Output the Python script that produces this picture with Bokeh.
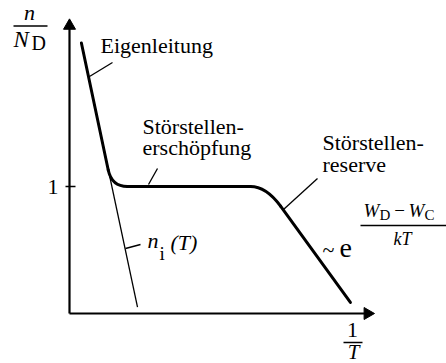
import math
from bokeh.plotting import figure
from bokeh.models import Range1d
from bokeh.core.properties import value
from bokeh.embed import file_html
from bokeh.resources import INLINE

# Carrier density n/N_D versus 1/T (schematic units)
eigen_x = [0.39, 1.27]        # intrinsic branch (thick part)
eigen_y = [2.13, 1.13]
ni_x = [0.39, 2.23]           # n_i(T) continued as thin line
ni_y = [2.13, 0.05]
plateau_x = [1.90, 5.93]      # exhaustion range, n = N_D
plateau_y = [1.0, 1.0]
reserve_x = [6.92, 9.21]      # freeze-out range
reserve_y = [0.845, 0.087]
y_ticks = [1]
y_tick_labels = ["1"]
x_axis_end = 10.0
y_axis_end = 2.32

W, H = 446, 363
FONT = "Liberation Serif"

# frame: origin 69 px from the left and 50 px from the bottom
X0, Y0, SX, SY = 69.0, 313.0, 30.5, 127.0
# the svg text renderer places the alphabetic baseline about 0.36 em low
BASELINE_SHIFT = 0.36
HEAD = 12                       # arrow head size in px
HEAD_TIP = HEAD / 2 * math.sqrt(3) * 2 / 3   # centre-to-tip distance of a triangle marker


def x_at(xs, ys, y):
    """x of the straight line through (xs, ys) at height y."""
    return xs[0] + (y - ys[0]) * (xs[1] - xs[0]) / (ys[1] - ys[0])


def dx(px):
    return (px - X0) / SX


def dy(py):
    return (Y0 - py) / SY


p = figure(width=W, height=H, output_backend="svg", toolbar_location=None,
           x_range=Range1d(dx(0), dx(W)), y_range=Range1d(dy(H), dy(0)),
           x_axis_location=None, y_axis_location=None, min_border=0,
           outline_line_color=None, background_fill_color="white")
p.grid.grid_line_color = None

# axes: lines up to the arrow heads, heads as triangle markers
y_head = y_axis_end - HEAD_TIP / SY
x_head = x_axis_end - HEAD_TIP / SX
p.segment(x0=[0, 0], y0=[0, 0], x1=[0, x_head], y1=[y_head, 0],
          line_width=2.2, line_color="black")
p.scatter(x=[0, x_head], y=[y_head, 0], marker="triangle", size=HEAD,
          angle=[0, -math.pi / 2], fill_color="black", line_color="black",
          line_width=1)

# y tick marks: 4 px outside, 6 px inside the axis
p.segment(x0=[dx(X0 - 4)] * len(y_ticks), y0=y_ticks,
          x1=[dx(X0 + 6)] * len(y_ticks), y1=y_ticks,
          line_width=1.5, line_color="black")
p.text(x=[dx(X0 - 11)] * len(y_ticks), y=y_ticks, text=y_tick_labels,
       text_font=value(FONT), text_font_size=value("22px"),
       text_align="right", text_baseline="middle", text_color="black")

# thin n_i(T) line
p.line(ni_x, ni_y, line_width=1.3, line_color="black")

# thick n(T) curve with rounded transitions
thick = dict(line_width=3, line_color="black", line_cap="round", line_join="round")
p.line(eigen_x, eigen_y, **thick)
p.quadratic(x0=eigen_x[1], y0=eigen_y[1], x1=plateau_x[0], y1=plateau_y[0],
            cx=x_at(eigen_x, eigen_y, plateau_y[0]), cy=plateau_y[0], **thick)
p.line(plateau_x, plateau_y, **thick)
p.quadratic(x0=plateau_x[1], y0=plateau_y[1], x1=reserve_x[0], y1=reserve_y[0],
            cx=x_at(reserve_x, reserve_y, plateau_y[1]), cy=plateau_y[1], **thick)
p.line(reserve_x, reserve_y, **thick)


def lab(text, px, py, size, italic=False, align="left"):
    """Text with its alphabetic baseline at pixel row py."""
    p.text(x=[dx(px)], y=[dy(py - BASELINE_SHIFT * size)], text=[text],
           text_font=value(FONT), text_font_size=value(f"{size}px"),
           text_font_style=value("italic" if italic else "normal"),
           text_align=value(align), text_baseline=value("alphabetic"),
           text_color="black")


def stroke(x0, y0, x1, y1, width=1.3):
    p.segment(x0=[dx(x0)], y0=[dy(y0)], x1=[dx(x1)], y1=[dy(y1)],
              line_width=width, line_color="black")


# y axis title n / N_D
lab("n", 29, 20, 22, italic=True, align="center")
stroke(13, 25.5, 47, 25.5, 1.5)
lab("N", 13, 47, 23, italic=True)
lab("D", 31, 50, 20)

# x axis title 1 / T
lab("1", 352, 337, 22, align="center")
stroke(343, 342, 362, 342, 1.5)
lab("T", 353, 359, 21, italic=True, align="center")

# range labels with leader lines
lab("Eigenleitung", 100, 53, 22)
stroke(89, 76, 112, 62)

lab("Störstellen-", 142, 134, 22)
lab("erschöpfung", 142, 155, 22)
stroke(148, 184, 157, 168)

lab("Störstellen-", 322, 150, 22)
lab("reserve", 322, 172, 22)
stroke(283, 209, 317, 178)

lab("n", 147, 248, 22, italic=True)
lab("i", 159, 260, 19)
lab("(T)", 170, 250, 22, italic=True)
stroke(125, 248, 140, 244)

# ~ exp((W_D - W_C)/kT)
lab("~", 322, 257, 22)
lab("e", 339, 258, 28)
lab("W", 363, 217, 19, italic=True)
lab("D", 379, 220, 15)
lab("−", 399, 217, 19, align="center")
lab("W", 408, 217, 19, italic=True)
lab("C", 424, 220, 15)
stroke(360, 225, 446, 225, 1.5)
lab("kT", 402, 245, 18, italic=True, align="center")

open("out.html", "w").write(file_html(p, INLINE))
